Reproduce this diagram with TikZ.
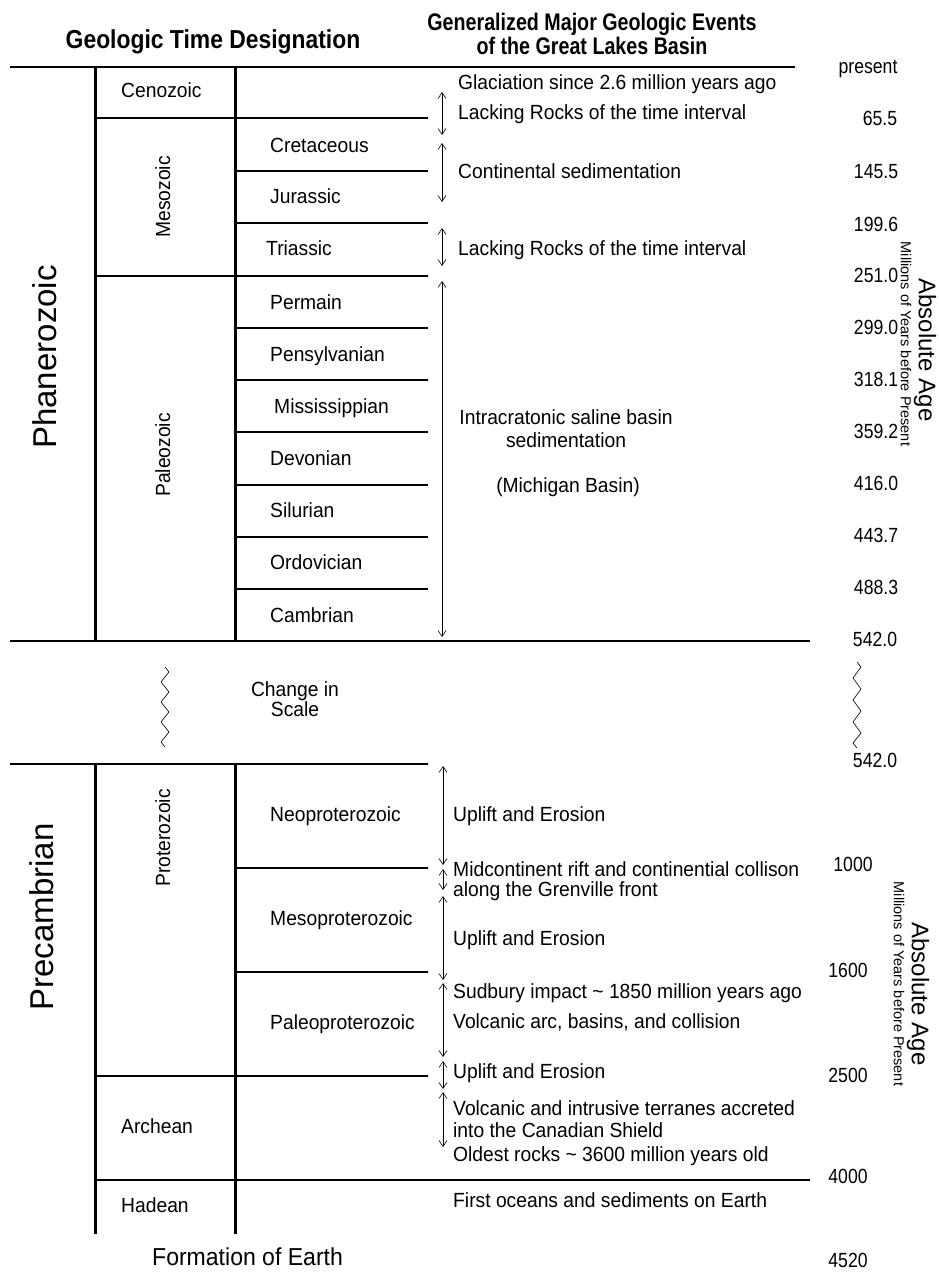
\documentclass[tikz,border=0pt]{standalone}
\usepackage{fontspec}
\setmainfont{Liberation Sans}
\newfontfamily\cf{Liberation Sans}[FakeStretch=0.94]
\newfontfamily\nf{Liberation Sans}[FakeStretch=0.86]
\newfontfamily\hf{Liberation Sans}[FakeStretch=0.88]
\newfontfamily\hg{Liberation Sans}[FakeStretch=0.82]
\usetikzlibrary{arrows.meta}
\begin{document}
\begin{tikzpicture}[x=1pt,y=-1pt,
  vl/.style={line width=3pt},
  ml/.style={line width=2pt},
  hl/.style={line width=1.5pt},
  ev/.style={line width=0.6pt,{Straight Barb[length=6pt,width=8pt]}-{Straight Barb[length=6pt,width=8pt]}},
  lb/.style={inner sep=0pt,font=\cf\fontsize{20.5}{23}\selectfont,text height=14pt,text depth=4pt},
  lw/.style={lb,anchor=west},
  num/.style={inner sep=0pt,font=\nf\fontsize{20.5}{23}\selectfont,text height=14pt,text depth=4pt},
  hd/.style={inner sep=0pt,font=\hf\bfseries\fontsize{26}{25}\selectfont},
  hd2/.style={inner sep=0pt,font=\hg\bfseries\fontsize{24}{24.5}\selectfont},
  big/.style={inner sep=0pt,font=\fontsize{33}{36}\selectfont},
  ab/.style={inner sep=0pt,font=\fontsize{24}{26}\selectfont},
  mil/.style={inner sep=0pt,font=\fontsize{14.5}{16}\selectfont},
  zz/.style={line width=0.6pt}
]
\useasboundingbox (0,0) rectangle (939,1279);

% headers
\node[hd] (h1) at (213,42) {Geologic Time Designation};
\node[hd2,align=center] (h2) at (592,34) {Generalized Major Geologic Events\\of the Great Lakes Basin};

% ---------- Phanerozoic ----------
\draw[ml] (10,67) -- (795,67);
\draw[ml] (10,641) -- (810,641);
\draw[vl] (95,67) -- (95,641);
\draw[vl] (235,67) -- (235,641);
\draw[hl] (95,118) -- (428,118);
\draw[hl] (235,171) -- (428,171);
\draw[hl] (235,223) -- (428,223);
\draw[hl] (95,276) -- (428,276);
\draw[hl] (235,328) -- (428,328);
\draw[hl] (235,380) -- (428,380);
\draw[hl] (235,432) -- (428,432);
\draw[hl] (235,485) -- (428,485);
\draw[hl] (235,537) -- (428,537);
\draw[hl] (235,589) -- (428,589);

\node[big,rotate=90] (phan) at (45,357) {Phanerozoic};
\node[lb,rotate=90] (meso) at (165,197) {Mesozoic};
\node[lb,rotate=90] (paleo) at (165,455) {Paleozoic};
\node[lw] (ceno) at (121,93) {Cenozoic};
\node[lw] (cret) at (270,148) {Cretaceous};
\node[lw] (jur) at (270,198) {Jurassic};
\node[lw] (tri) at (266,250) {Triassic};
\node[lw] (perm) at (270,304) {Permain};
\node[lw] (penn) at (270,356) {Pensylvanian};
\node[lw] (miss) at (274,408) {Mississippian};
\node[lw] (dev) at (270,460) {Devonian};
\node[lw] (sil) at (270,512) {Silurian};
\node[lw] (ord) at (270,564) {Ordovician};
\node[lw] (camb) at (270,617) {Cambrian};

% events
\coordinate (a1s) at (442,92);  \coordinate (a1e) at (442,135);
\coordinate (a2s) at (442,143); \coordinate (a2e) at (442,202);
\coordinate (a3s) at (442,228); \coordinate (a3e) at (442,266);
\coordinate (a4s) at (442,281); \coordinate (a4e) at (442,637);
\draw[ev] (a1s) -- (a1e);
\draw[ev] (a2s) -- (a2e);
\draw[ev] (a3s) -- (a3e);
\draw[ev] (a4s) -- (a4e);
\node[lw] (e1) at (458,85) {Glaciation since 2.6 million years ago};
\node[lw] (e2) at (458,115) {Lacking Rocks of the time interval};
\node[lw] (e3) at (458,173) {Continental sedimentation};
\node[lw] (e4) at (458,250) {Lacking Rocks of the time interval};
\node[lb,align=center] (e5) at (566,442) {Intracratonic saline basin\\sedimentation};
\node[lb] (e6) at (568,487) {(Michigan Basin)};

% ages
\node[num] (n0) at (868,69) {present};
\node[num] (n1) at (880,121) {65.5};
\node[num] (n2) at (876,173) {145.5};
\node[num] (n3) at (876,226) {199.6};
\node[num] (n4) at (876,277) {251.0};
\node[num] (n5) at (876,329) {299.0};
\node[num] (n6) at (876,381) {318.1};
\node[num] (n7) at (876,433) {359.2};
\node[num] (n8) at (876,485) {416.0};
\node[num] (n9) at (876,537) {443.7};
\node[num] (n10) at (876,589) {488.3};
\node[num] (n11) at (875,641) {542.0};
\node[ab,rotate=-90] (abs1) at (925,350) {Absolute Age};
\node[mil,rotate=-90] (mil1) at (906,344) {Millions of Years before Present};

% ---------- change in scale ----------
\draw[zz] (165,667) -- (169,672) -- (161,682) -- (169,692) -- (161,702) -- (169,712)
  -- (161,722) -- (169,732) -- (161,742) -- (165,747);
\draw[zz] (857,662) -- (861,667) -- (853,678) -- (861,689) -- (853,700) -- (861,711)
  -- (853,722) -- (861,733) -- (853,743) -- (857,748);
\node[lb,align=center,font=\cf\fontsize{20.5}{20}\selectfont] (chg) at (295,711) {Change in\\Scale};

% ---------- Precambrian ----------
\draw[ml] (10,764) -- (428,764);
\draw[vl] (95,764) -- (95,1234);
\draw[vl] (235,764) -- (235,1234);
\draw[hl] (235,868) -- (428,868);
\draw[hl] (235,972) -- (428,972);
\draw[hl] (95,1076) -- (428,1076);
\draw[ml] (95,1180) -- (810,1180);

\node[big,rotate=90] (prec) at (42,917) {Precambrian};
\node[lb,rotate=90] (prot) at (165,838) {Proterozoic};
\node[lw] (neo) at (270,816) {Neoproterozoic};
\node[lw] (mesop) at (270,920) {Mesoproterozoic};
\node[lw] (paleop) at (270,1024) {Paleoproterozoic};
\node[lw] (arch) at (121,1128) {Archean};
\node[lw] (had) at (121,1207) {Hadean};

\coordinate (b1s) at (443,766);  \coordinate (b1e) at (443,865);
\coordinate (b2s) at (443,869);  \coordinate (b2e) at (443,890);
\coordinate (b3s) at (443,896);  \coordinate (b3e) at (443,980);
\coordinate (b4s) at (443,983);  \coordinate (b4e) at (443,1057);
\coordinate (b5s) at (443,1061); \coordinate (b5e) at (443,1089);
\coordinate (b6s) at (443,1092); \coordinate (b6e) at (443,1147);
\draw[ev] (b1s) -- (b1e);
\draw[ev] (b2s) -- (b2e);
\draw[ev] (b3s) -- (b3e);
\draw[ev] (b4s) -- (b4e);
\draw[ev] (b5s) -- (b5e);
\draw[ev] (b6s) -- (b6e);
\node[lw] (f1) at (453,816) {Uplift and Erosion};
\node[lw] (f2) at (453,871) {Midcontinent rift and continential collison};
\node[lw] (f3) at (453,891) {along the Grenville front};
\node[lw] (f4) at (453,940) {Uplift and Erosion};
\node[lw] (f5) at (453,993) {Sudbury impact \textasciitilde{} 1850 million years ago};
\node[lw] (f6) at (453,1023) {Volcanic arc, basins, and collision};
\node[lw] (f7) at (453,1073) {Uplift and Erosion};
\node[lw] (f8) at (453,1110) {Volcanic and intrusive terranes accreted};
\node[lw] (f9) at (453,1132) {into the Canadian Shield};
\node[lw] (f10) at (453,1156) {Oldest rocks \textasciitilde{} 3600 million years old};
\node[lw] (f11) at (453,1202) {First oceans and sediments on Earth};
\node[lw,font=\cf\fontsize{24.5}{26}\selectfont] (form) at (152,1260) {Formation of Earth};

\node[num] (p0) at (875,762) {542.0};
\node[num] (p1) at (853,866) {1000};
\node[num] (p2) at (848,972) {1600};
\node[num] (p3) at (848,1077) {2500};
\node[num] (p4) at (848,1178) {4000};
\node[num] (p5) at (848,1262) {4520};
\node[ab,rotate=-90] (abs2) at (918,994) {Absolute Age};
\node[mil,rotate=-90] (mil2) at (899,984) {Millions of Years before Present};
\end{tikzpicture}
\end{document}
